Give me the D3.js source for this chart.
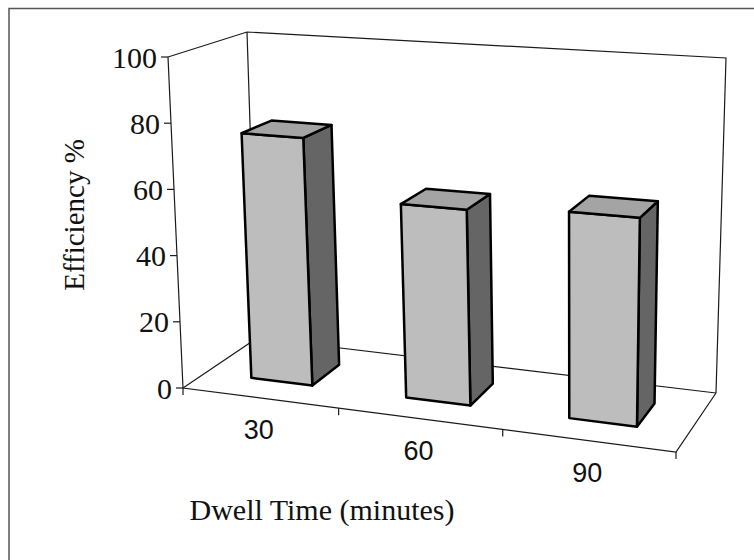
<!DOCTYPE html>
<html>
<head>
<meta charset="utf-8">
<script src="https://cdn.jsdelivr.net/npm/d3@7"></script>
<style>
  body { margin: 0; background: #fff; }
</style>
</head>
<body>
<script>
// values
var categories = ["30", "60", "90"];
var efficiency = [75, 57.5, 59.5];
var yTicks = [0, 20, 40, 60, 80, 100];

var width = 754, height = 560;

// corners of the 3d box on screen (front-left, front-right, back-right, back-left)
var floorQuad = [[183, 388], [676, 452], [716, 393], [257, 338]];
var topQuad = [[168, 57], [685, 89], [726, 58], [247, 32]];

// unit square -> quad (perspective)
function quadMap(p) {
    var dx1 = p[1][0] - p[2][0], dx2 = p[3][0] - p[2][0], dx3 = p[0][0] - p[1][0] + p[2][0] - p[3][0];
    var dy1 = p[1][1] - p[2][1], dy2 = p[3][1] - p[2][1], dy3 = p[0][1] - p[1][1] + p[2][1] - p[3][1];
    var den = dx1 * dy2 - dx2 * dy1;
    var g = (dx3 * dy2 - dx2 * dy3) / den;
    var h = (dx1 * dy3 - dx3 * dy1) / den;
    var a = p[1][0] - p[0][0] + g * p[1][0], b = p[3][0] - p[0][0] + h * p[3][0], c = p[0][0];
    var d = p[1][1] - p[0][1] + g * p[1][1], e = p[3][1] - p[0][1] + h * p[3][1], f = p[0][1];
    return function(u, w) {
        var q = g * u + h * w + 1;
        return [(a * u + b * w + c) / q, (d * u + e * w + f) / q];
    };
}
var floorH = quadMap(floorQuad);
var topH = quadMap(topQuad);

// u: along categories, v: value height, w: depth (0 front, 1 back)
function proj(u, v, w) {
    var f = floorH(u, w), t = topH(u, w);
    return [f[0] + (t[0] - f[0]) * v, f[1] + (t[1] - f[1]) * v];
}

var x = d3.scaleBand().domain(categories).range([0, 1]).paddingInner(0.6).paddingOuter(0.3);
var y = d3.scaleLinear().domain([0, 100]).range([0, 1]);
var z0 = 0.3, z1 = 0.7;

var svg = d3.select("body").append("svg")
    .attr("width", width)
    .attr("height", height);

// outer frame (only top and left visible)
svg.append("path")
    .attr("d", "M9,560 L9,8.5 L754,8.5")
    .attr("fill", "none")
    .attr("stroke", "#555")
    .attr("stroke-width", 1.5);

var line = d3.line();
function edge(pts) {
    svg.append("path")
        .attr("d", line(pts))
        .attr("fill", "none")
        .attr("stroke", "#1a1a1a")
        .attr("stroke-width", 1.2);
}

// walls and floor
edge([proj(0, 1, 0), proj(0, 1, 1), proj(1, 1, 1), proj(1, 0, 1)]);
edge([proj(0, 1, 1), proj(0, 0, 1)]);
edge([proj(0, 0, 0), proj(0, 0, 1), proj(1, 0, 1)]);
edge([proj(1, 0, 1), proj(1, 0, 0), proj(0, 0, 0), proj(0, 1, 0)]);

// value ticks on the front-left edge
yTicks.forEach(function(t) {
    var p = proj(0, y(t), 0);
    edge([[p[0] - 7, p[1]], p]);
    svg.append("text")
        .attr("x", p[0] - 11)
        .attr("y", p[1])
        .attr("text-anchor", "end")
        .attr("dominant-baseline", "central")
        .attr("font-family", "Liberation Serif")
        .attr("font-size", "30px")
        .attr("fill", "#111")
        .text(t);
});

// category ticks and labels on the front floor edge
[0, 1 / 3, 2 / 3, 1].forEach(function(u) {
    var p = proj(u, 0, 0);
    edge([p, [p[0], p[1] + 7]]);
});
categories.forEach(function(c) {
    var p = proj(x(c) + x.bandwidth() / 2, 0, 0);
    svg.append("text")
        .attr("x", p[0] - 1)
        .attr("y", p[1] + 32)
        .attr("text-anchor", "middle")
        .attr("dominant-baseline", "central")
        .attr("font-family", "Liberation Sans")
        .attr("font-size", "27px")
        .attr("fill", "#111")
        .text(c);
});

// bars
var bars = categories.map(function(c, i) {
    return {u0: x(c), u1: x(c) + x.bandwidth(), v: y(efficiency[i])};
});

function face(pts, fill) {
    svg.append("path")
        .attr("d", line(pts) + "Z")
        .attr("fill", fill)
        .attr("stroke", "#000")
        .attr("stroke-width", 2.5)
        .attr("stroke-linejoin", "round");
}

bars.forEach(function(b) {
    // right side
    face([proj(b.u1, 0, z0), proj(b.u1, 0, z1), proj(b.u1, b.v, z1), proj(b.u1, b.v, z0)], "#656565");
    // front
    face([proj(b.u0, 0, z0), proj(b.u1, 0, z0), proj(b.u1, b.v, z0), proj(b.u0, b.v, z0)], "#bdbdbd");
    // top
    face([proj(b.u0, b.v, z0), proj(b.u1, b.v, z0), proj(b.u1, b.v, z1), proj(b.u0, b.v, z1)], "#a4a4a4");
});

// axis titles
svg.append("text")
    .attr("transform", "translate(74,215) rotate(-90)")
    .attr("text-anchor", "middle")
    .attr("dominant-baseline", "central")
    .attr("font-family", "Liberation Serif")
    .attr("font-size", "29px")
    .attr("fill", "#111")
    .text("Efficiency %");

svg.append("text")
    .attr("x", 322)
    .attr("y", 520)
    .attr("text-anchor", "middle")
    .attr("font-family", "Liberation Serif")
    .attr("font-size", "30px")
    .attr("fill", "#111")
    .text("Dwell Time (minutes)");
</script>
</body>
</html>
